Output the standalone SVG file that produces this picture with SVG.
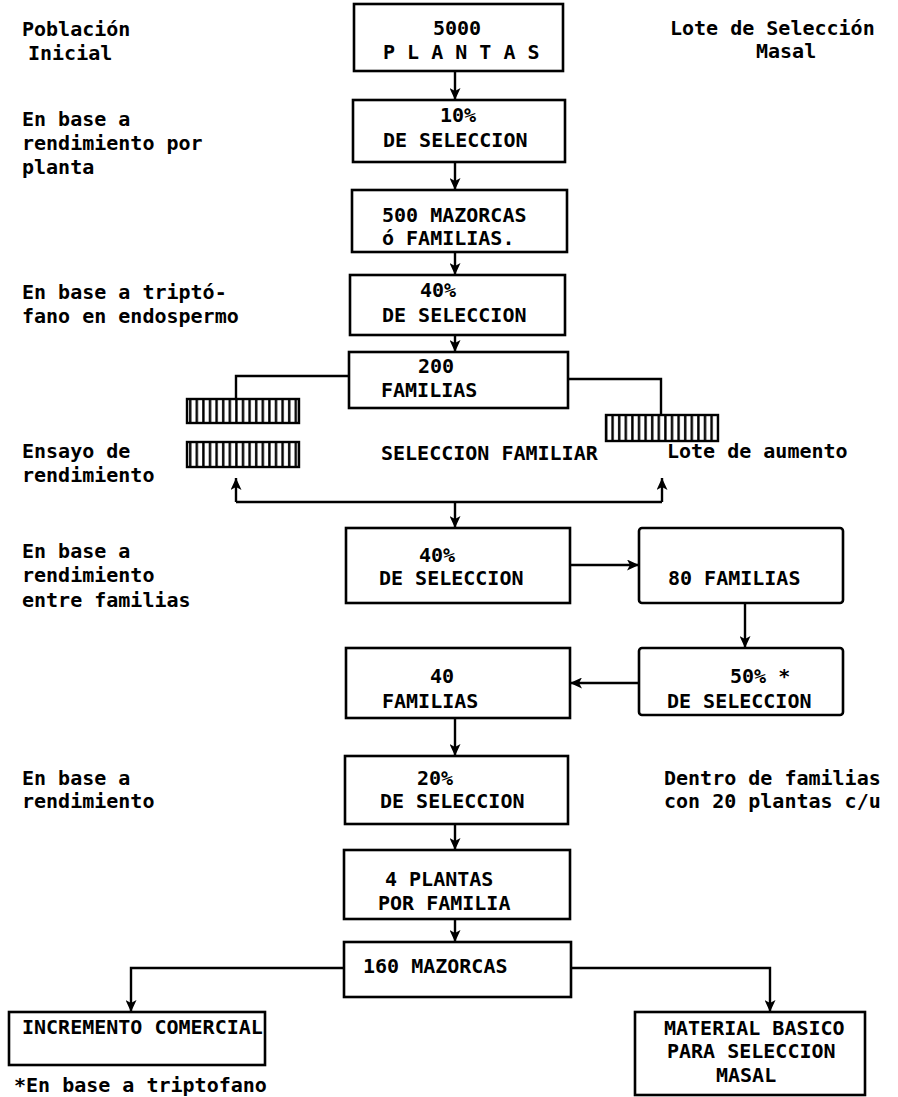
<svg xmlns="http://www.w3.org/2000/svg" width="898" height="1097" viewBox="0 0 898 1097">
<defs>
<style>
text{font-family:"DejaVu Sans Mono","Liberation Mono",monospace;font-size:20px;font-weight:bold;fill:#000}
.box{fill:#fff;stroke:#000;stroke-width:2.6}
.ln{fill:none;stroke:#000;stroke-width:2.4}
.arr{fill:none;stroke:#000;stroke-width:2.4;marker-end:url(#ah)}
.hatch{fill:url(#hp);stroke:#000;stroke-width:2.4}
</style>
<marker id="ah" markerUnits="userSpaceOnUse" markerWidth="13" markerHeight="11" refX="12" refY="5.5" orient="auto" viewBox="0 0 13 11">
<path d="M0,0 L12,5.5 L0,11 L3,5.5 z" fill="#000"/>
</marker>
<pattern id="hp" patternUnits="userSpaceOnUse" width="6.6" height="40" x="187" y="0">
<rect width="6.6" height="40" fill="#fff"/>
<rect x="2" width="2.4" height="40" fill="#000"/>
</pattern>
</defs>
<rect width="898" height="1097" fill="#fff"/>

<g id="labels">
<text x="22" y="36">Población</text>
<text x="28" y="60">Inicial</text>
<text x="670" y="35">Lote de Selección</text>
<text x="756" y="58">Masal</text>
<text x="22" y="126">En base a</text>
<text x="22" y="150">rendimiento por</text>
<text x="22" y="174">planta</text>
<text x="22" y="299">En base a triptó-</text>
<text x="22" y="323">fano en endospermo</text>
<text x="22" y="458">Ensayo de</text>
<text x="22" y="482">rendimiento</text>
<text x="381" y="460">SELECCION FAMILIAR</text>
<text x="667" y="458">Lote de aumento</text>
<text x="22" y="558">En base a</text>
<text x="22" y="582">rendimiento</text>
<text x="22" y="607">entre familias</text>
<text x="22" y="785">En base a</text>
<text x="22" y="808">rendimiento</text>
<text x="664" y="785">Dentro de familias</text>
<text x="664" y="808">con 20 plantas c/u</text>
<text x="14" y="1092">*En base a triptofano</text>
</g>

<g id="connectors">
<line class="arr" x1="455" y1="71" x2="455" y2="100"/>
<line class="arr" x1="455" y1="162" x2="455" y2="190"/>
<line class="arr" x1="455" y1="252" x2="455" y2="275"/>
<line class="arr" x1="455" y1="335" x2="455" y2="352"/>
<polyline class="ln" points="349,376 236,376 236,399"/>
<polyline class="ln" points="568,379 661,379 661,415"/>
<line class="ln" x1="236" y1="502" x2="662" y2="502"/>
<line class="arr" x1="236" y1="502" x2="236" y2="478"/>
<line class="arr" x1="662" y1="502" x2="662" y2="478"/>
<line class="arr" x1="455" y1="502" x2="455" y2="528"/>
<line class="arr" x1="570" y1="565" x2="639" y2="565"/>
<line class="arr" x1="745" y1="603" x2="745" y2="648"/>
<line class="arr" x1="639" y1="683" x2="570" y2="683"/>
<line class="arr" x1="455" y1="718" x2="455" y2="756"/>
<line class="arr" x1="455" y1="824" x2="455" y2="850"/>
<line class="arr" x1="455" y1="919" x2="455" y2="942"/>
<polyline class="arr" points="344,968 131,968 131,1012"/>
<polyline class="arr" points="571,968 770,968 770,1012"/>
</g>

<g id="n1"><rect class="box" x="354" y="4" width="209" height="67"/>
<text x="433" y="35">5000</text><text x="383" y="59">P L A N T A S</text></g>
<g id="n2"><rect class="box" x="353" y="100" width="212" height="62"/>
<text x="440" y="122">10%</text><text x="383" y="147">DE SELECCION</text></g>
<g id="n3"><rect class="box" x="352" y="190" width="215" height="62"/>
<text x="382" y="222">500 MAZORCAS</text><text x="382" y="245">ó FAMILIAS.</text></g>
<g id="n4"><rect class="box" x="350" y="275" width="215" height="60"/>
<text x="420" y="297">40%</text><text x="382" y="322">DE SELECCION</text></g>
<g id="n5"><rect class="box" x="349" y="352" width="219" height="56"/>
<text x="418" y="373">200</text><text x="381" y="397">FAMILIAS</text></g>
<g id="hatch1"><rect class="hatch" x="187" y="399" width="112" height="24"/></g>
<g id="hatch2"><rect class="hatch" x="187" y="442" width="112" height="25"/></g>
<g id="hatch3"><rect class="hatch" x="606" y="415" width="112" height="26"/></g>
<g id="n6"><rect class="box" x="346" y="528" width="224" height="75"/>
<text x="419" y="562">40%</text><text x="379" y="585">DE SELECCION</text></g>
<g id="n7"><rect class="box" x="639" y="528" width="204" height="75" rx="3"/>
<text x="668" y="585">80 FAMILIAS</text></g>
<g id="n8"><rect class="box" x="639" y="648" width="204" height="67" rx="3"/>
<text x="730" y="683">50% *</text><text x="667" y="708">DE SELECCION</text></g>
<g id="n9"><rect class="box" x="346" y="648" width="224" height="70"/>
<text x="430" y="683">40</text><text x="382" y="708">FAMILIAS</text></g>
<g id="n10"><rect class="box" x="345" y="756" width="223" height="68"/>
<text x="417" y="785">20%</text><text x="380" y="808">DE SELECCION</text></g>
<g id="n11"><rect class="box" x="344" y="850" width="226" height="69"/>
<text x="385" y="886">4 PLANTAS</text><text x="378" y="910">POR FAMILIA</text></g>
<g id="n12"><rect class="box" x="344" y="942" width="227" height="55"/>
<text x="363" y="973">160 MAZORCAS</text></g>
<g id="n13"><rect class="box" x="9" y="1012" width="256" height="53"/>
<text x="22" y="1034">INCREMENTO COMERCIAL</text></g>
<g id="n14"><rect class="box" x="635" y="1012" width="230" height="83"/>
<text x="664" y="1035">MATERIAL BASICO</text><text x="667" y="1058">PARA SELECCION</text><text x="716" y="1082">MASAL</text></g>
</svg>
